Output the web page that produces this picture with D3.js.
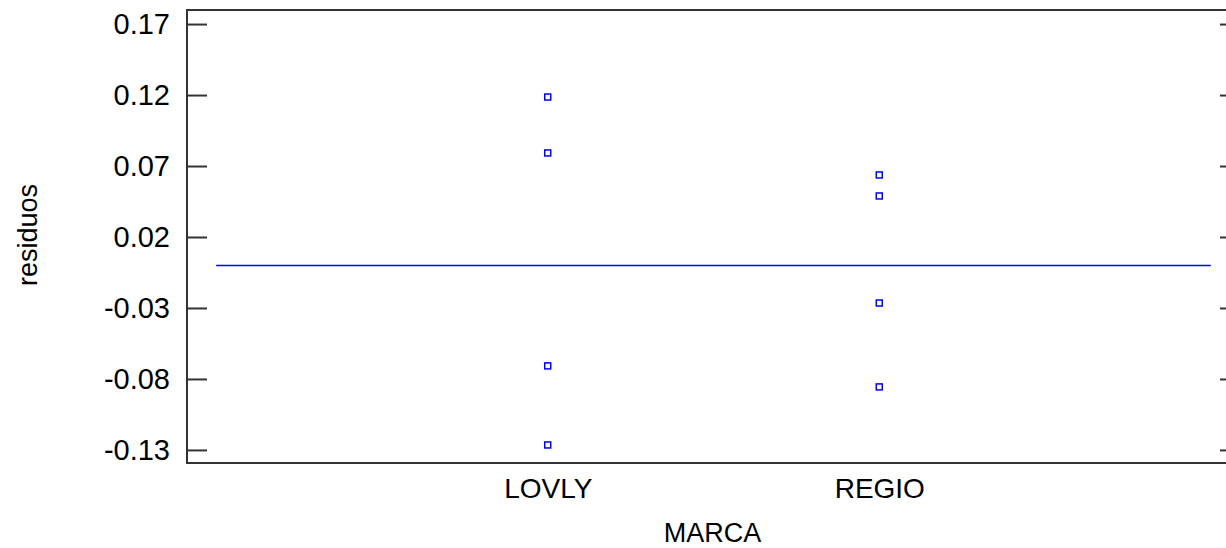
<!DOCTYPE html>
<html><head><meta charset="utf-8">
<script src="https://cdn.jsdelivr.net/npm/d3@7"></script>
<style>
html,body{margin:0;padding:0;background:#fff;overflow:hidden;}
text{font-family:"Liberation Sans",Arial,sans-serif;fill:#000;}
</style></head>
<body>
<svg id="c" width="1226" height="548"></svg>
<script>
const categories = ["LOVLY", "REGIO"];
const categoryPositions = [1, 2];
const lovlyResiduals = [0.1186, 0.0792, -0.0708, -0.1265];
const regioResiduals = [0.0637, 0.0489, -0.0265, -0.0856];
const yTicks = [0.17, 0.12, 0.07, 0.02, -0.03, -0.08, -0.13];
const yTickLabels = ["0.17", "0.12", "0.07", "0.02", "-0.03", "-0.08", "-0.13"];
const xLabel = "MARCA";
const yLabel = "residuos";

const svg = d3.select("#c");
const L = 187, R = 1240, T = 10, B = 463;
const x = d3.scaleLinear().domain([-0.088, 3.088]).range([L, R]);
const y = d3.scaleLinear().domain([-0.1392, 0.1799]).range([B, T]);

// frame
svg.append("rect").attr("x", L).attr("y", T).attr("width", R - L).attr("height", B - T)
  .attr("fill", "none").attr("stroke", "#333").attr("stroke-width", 2);

// left ticks
const yAxisL = d3.axisLeft(y).tickValues(yTicks).tickSizeInner(-20).tickSizeOuter(0)
  .tickPadding(17).tickFormat((d, i) => yTickLabels[i]);
const gL = svg.append("g").attr("transform", `translate(${L},0)`).call(yAxisL);
gL.select(".domain").remove();
gL.selectAll("line").attr("stroke", "#333").attr("stroke-width", 2);
gL.selectAll("text").style("font-size", "29px").attr("fill", "#000")
  .attr("font-family", "Liberation Sans, Arial, sans-serif");

// right ticks
const yAxisR = d3.axisRight(y).tickValues(yTicks).tickSizeInner(-20).tickSizeOuter(0).tickFormat("");
const gR = svg.append("g").attr("transform", `translate(${R},0)`).call(yAxisR);
gR.select(".domain").remove();
gR.selectAll("line").attr("stroke", "#333").attr("stroke-width", 2);

// x category labels
const xAxis = d3.axisBottom(x).tickValues(categoryPositions).tickSize(0).tickPadding(15)
  .tickFormat((d, i) => categories[i]);
const gX = svg.append("g").attr("transform", `translate(0,${B})`).call(xAxis);
gX.select(".domain").remove();
gX.selectAll("text").style("font-size", "28px").attr("fill", "#000")
  .attr("font-family", "Liberation Sans, Arial, sans-serif");

// zero line
svg.append("line").attr("x1", x(0)).attr("x2", x(3)).attr("y1", y(0)).attr("y2", y(0))
  .attr("stroke", "#0000ff").attr("stroke-width", 1.5);

// points
const pts = [];
lovlyResiduals.forEach(v => pts.push({c: categoryPositions[0], v}));
regioResiduals.forEach(v => pts.push({c: categoryPositions[1], v}));
const s = 6;
svg.append("g").selectAll("rect").data(pts).join("rect")
  .attr("x", d => x(d.c) - s / 2).attr("y", d => y(d.v) - s / 2)
  .attr("width", s).attr("height", s)
  .attr("fill", "#fff").attr("stroke", "#0000ff").attr("stroke-width", 1.5);

// axis titles
svg.append("text").attr("x", (L + R) / 2 - 1).attr("y", 542).attr("text-anchor", "middle")
  .style("font-size", "27px").text(xLabel);
svg.append("text").attr("transform", "translate(37,235) rotate(-90)").attr("text-anchor", "middle")
  .style("font-size", "27px").text(yLabel);
</script>
</body></html>
